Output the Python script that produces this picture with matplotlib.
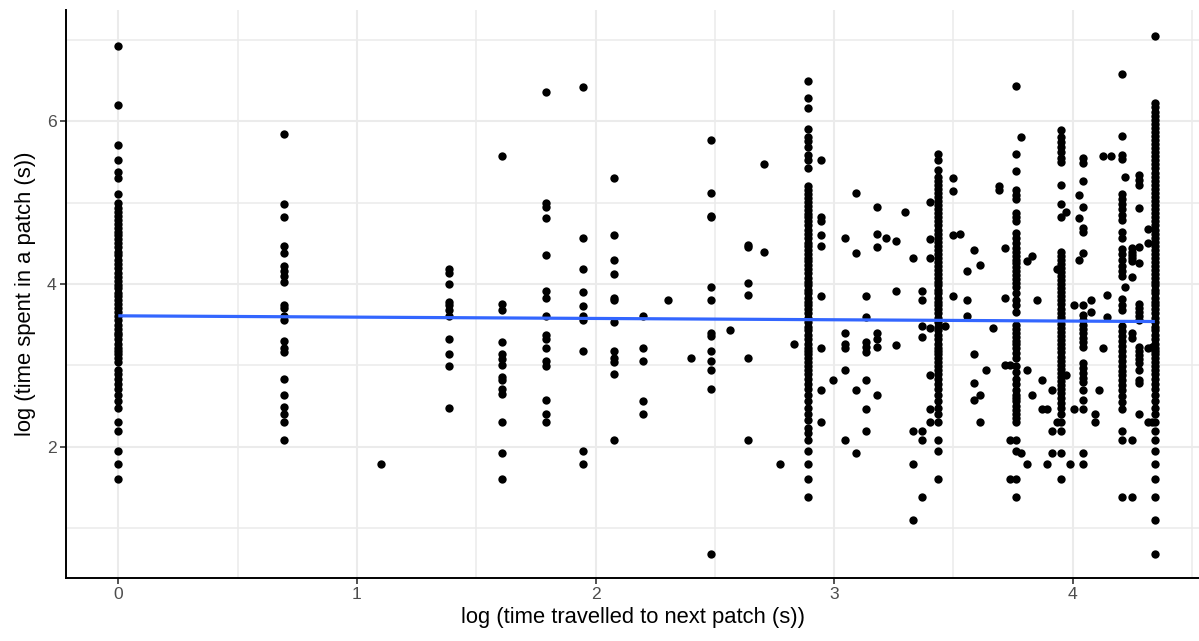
import matplotlib
matplotlib.use('Agg')
import numpy as np
import matplotlib.pyplot as plt

plt.rcParams['font.family'] = ['Liberation Sans', 'DejaVu Sans']

# log (time spent in a patch) for the crowded travel-time columns
y_t1 = [6.93, 6.20, 5.71, 5.53, 5.38, 5.30, 5.11, 4.99, 4.94, 4.89, 4.84, 4.79, 4.74, 4.69,
        4.64, 4.60, 4.55, 4.50, 4.45, 4.40, 4.36, 4.30, 4.25, 4.20, 4.14, 4.09, 4.04, 3.99,
        3.95, 3.89, 3.85, 3.81, 3.76, 3.71, 3.66, 3.61, 3.56, 3.50, 3.45, 3.40, 3.37, 3.33,
        3.26, 3.22, 3.18, 3.14, 3.09, 3.04, 2.94, 2.89, 2.83, 2.77, 2.71, 2.64, 2.56, 2.48,
        2.30, 2.20, 1.95, 1.79, 1.61]
y_t18 = [6.49, 6.29, 6.16, 5.90, 5.81, 5.76, 5.69, 5.59, 5.52, 5.42, 5.20, 5.15, 5.11, 5.06,
         5.01, 4.96, 4.91, 4.86, 4.82, 4.77, 4.72, 4.66, 4.61, 4.56, 4.51, 4.47, 4.42, 4.37,
         4.32, 4.28, 4.23, 4.18, 4.13, 4.08, 4.03, 3.99, 3.93, 3.89, 3.83, 3.78, 3.74, 3.69,
         3.64, 3.58, 3.53, 3.47, 3.43, 3.37, 3.33, 3.26, 3.22, 3.18, 3.14, 3.09, 3.04, 2.99,
         2.94, 2.89, 2.83, 2.77, 2.71, 2.64, 2.56, 2.48, 2.40, 2.33, 2.23, 2.17, 2.08, 1.95,
         1.79, 1.61, 1.39]
y_t31 = [5.60, 5.52, 5.40, 5.32, 5.27, 5.22, 5.17, 5.12, 5.07, 5.02, 4.97, 4.92, 4.87, 4.82,
         4.77, 4.72, 4.67, 4.62, 4.57, 4.52, 4.47, 4.42, 4.37, 4.32, 4.27, 4.22, 4.17, 4.12,
         4.08, 4.03, 3.99, 3.93, 3.89, 3.83, 3.78, 3.74, 3.69, 3.64, 3.58, 3.53, 3.47, 3.43,
         3.37, 3.33, 3.26, 3.22, 3.18, 3.14, 3.09, 3.04, 2.99, 2.94, 2.89, 2.83, 2.77, 2.71,
         2.64, 2.56, 2.48, 2.40, 2.30, 2.08, 1.95, 1.61]
y_t43 = [6.43, 5.60, 5.39, 5.15, 5.10, 5.04, 4.87, 4.83, 4.77, 4.63, 4.57, 4.50, 4.44, 4.40,
         4.35, 4.30, 4.26, 4.21, 4.16, 4.11, 4.06, 4.01, 3.97, 3.89, 3.81, 3.74, 3.66, 3.50,
         3.45, 3.40, 3.35, 3.30, 3.26, 3.21, 3.15, 3.09, 2.99, 2.92, 2.83, 2.77, 2.70, 2.64,
         2.60, 2.56, 2.50, 2.45, 2.40, 2.35, 2.30, 2.08, 1.95, 1.61, 1.39]
y_t52 = [5.89, 5.81, 5.75, 5.69, 5.62, 5.55, 5.50, 5.22, 4.98, 4.83, 4.40, 4.35, 4.30, 4.25,
         4.20, 4.15, 4.10, 4.05, 4.00, 3.95, 3.90, 3.85, 3.80, 3.75, 3.70, 3.65, 3.60, 3.56,
         3.51, 3.46, 3.41, 3.36, 3.31, 3.26, 3.21, 3.16, 3.11, 3.06, 3.01, 2.96, 2.91, 2.86,
         2.81, 2.76, 2.71, 2.66, 2.60, 2.54, 2.48, 2.40, 2.31, 2.19, 1.93, 1.61]
y_t57 = [5.55, 5.49, 5.27, 4.95, 4.69, 4.64, 4.38, 3.74, 3.62, 3.56, 3.50, 3.45, 3.40, 3.34,
         3.29, 3.23, 3.03, 2.97, 2.91, 2.85, 2.80, 2.70, 2.58, 2.47, 1.93, 1.79]
y_t67 = [6.58, 5.82, 5.58, 5.54, 5.11, 5.05, 4.98, 4.92, 4.85, 4.79, 4.64, 4.57, 4.43, 4.37,
         4.29, 4.22, 4.16, 4.10, 3.82, 3.74, 3.68, 3.48, 3.42, 3.36, 3.30, 3.24, 3.18, 3.12,
         3.05, 2.99, 2.93, 2.88, 2.82, 2.76, 2.70, 2.62, 2.55, 2.47, 2.19, 2.08, 1.39]
y_t77 = [7.05, 6.22, 6.17, 6.12, 6.07, 6.02, 5.97, 5.92, 5.87, 5.82, 5.77, 5.72, 5.67, 5.62,
         5.57, 5.52, 5.47, 5.42, 5.37, 5.32, 5.27, 5.22, 5.17, 5.12, 5.07, 5.02, 4.97, 4.92,
         4.87, 4.82, 4.77, 4.72, 4.67, 4.62, 4.57, 4.52, 4.47, 4.42, 4.37, 4.32, 4.27, 4.22,
         4.17, 4.12, 4.08, 4.03, 3.99, 3.93, 3.89, 3.83, 3.78, 3.74, 3.69, 3.64, 3.58, 3.53,
         3.47, 3.43, 3.37, 3.33, 3.26, 3.22, 3.18, 3.14, 3.09, 3.04, 2.99, 2.94, 2.89, 2.83,
         2.77, 2.71, 2.64, 2.56, 2.48, 2.40, 2.30, 2.20, 2.08, 1.95, 1.79, 1.61, 1.39, 1.10,
         0.69]

dense_x = [0.0, 2.890, 3.434, 3.761, 3.951, 4.043, 4.205, 4.344]
dense_y = [y_t1, y_t18, y_t31, y_t43, y_t52, y_t57, y_t67, y_t77]

# the thinner travel-time columns
sparse_x = [0.693, 1.099, 1.386, 1.609, 1.792, 1.946, 2.079, 2.197, 2.303, 2.398, 2.485,
            2.565, 2.639, 2.708, 2.773, 2.833, 2.944, 2.996, 3.045, 3.091, 3.135, 3.178,
            3.219, 3.258, 3.296, 3.332, 3.367, 3.401, 3.466, 3.497, 3.526, 3.555, 3.584,
            3.611, 3.638, 3.664, 3.689, 3.714, 3.738, 3.784, 3.807, 3.829, 3.850, 3.871,
            3.892, 3.912, 3.932, 3.970, 3.989, 4.007, 4.025, 4.078, 4.094, 4.111, 4.127,
            4.143, 4.159, 4.220, 4.248, 4.277, 4.317, 4.331]
sparse_y = [
    [5.84, 4.98, 4.82, 4.47, 4.38, 4.22, 4.16, 4.10, 4.03, 3.74, 3.71, 3.61, 3.56, 3.30,
     3.22, 3.17, 2.83, 2.64, 2.49, 2.40, 2.30, 2.08],
    [1.79],
    [4.19, 4.13, 4.00, 3.78, 3.74, 3.68, 3.61, 3.32, 3.14, 2.99, 2.48],
    [5.57, 3.76, 3.68, 3.29, 3.14, 3.08, 3.01, 2.86, 2.82, 2.71, 2.65, 2.31, 1.93, 1.61],
    [6.36, 4.99, 4.95, 4.81, 4.36, 3.91, 3.83, 3.61, 3.37, 3.33, 3.21, 3.05, 2.99, 2.57,
     2.40, 2.31],
    [6.42, 4.56, 4.19, 3.90, 3.73, 3.61, 3.56, 3.18, 1.95, 1.79],
    [5.30, 4.60, 4.29, 4.12, 3.83, 3.80, 3.53, 3.18, 3.09, 3.04, 2.89, 2.08],
    [3.61, 3.22, 3.05, 2.56, 2.40],
    [3.81],
    [3.09],
    [5.77, 5.12, 4.84, 4.83, 3.97, 3.81, 3.40, 3.36, 3.18, 3.05, 2.94, 2.71, 0.69],
    [3.43],
    [4.48, 4.45, 4.01, 3.87, 3.09, 2.08],
    [5.48, 4.40],
    [1.79],
    [3.26],
    [5.52, 4.82, 4.77, 4.60, 4.47, 3.85, 3.21, 2.70, 2.31],
    [2.82],
    [4.56, 3.40, 3.27, 3.21, 2.94, 2.08],
    [5.12, 4.38, 2.70, 1.93],
    [3.85, 3.60, 3.29, 3.23, 3.17, 2.82, 2.47, 2.19],
    [4.95, 4.62, 4.45, 3.40, 3.33, 3.23, 2.64],
    [4.56],
    [4.53, 3.92, 3.25],
    [4.88],
    [4.32, 2.19, 1.79, 1.10],
    [3.91, 3.80, 3.48, 3.35, 2.19, 2.08, 1.39],
    [5.01, 4.55, 4.32, 3.46, 2.88, 2.47, 2.31],
    [3.49],
    [5.30, 5.14, 4.60, 3.85],
    [4.62],
    [4.16, 3.80, 3.61],
    [4.42, 3.14, 2.78, 2.58],
    [4.23, 2.64, 2.31],
    [2.94],
    [3.46],
    [5.20, 5.16],
    [4.44, 3.83, 3.01],
    [3.01, 2.08, 1.61],
    [5.81, 1.93],
    [4.28, 2.94, 1.79],
    [4.34, 2.64],
    [3.80],
    [2.82, 2.47],
    [2.47, 1.79],
    [2.70, 2.19, 1.93],
    [4.19, 2.31],
    [4.89, 2.88],
    [1.79],
    [3.74, 2.47],
    [5.09, 4.81, 4.30],
    [3.80, 3.66],
    [2.41, 2.31],
    [2.70],
    [5.57, 3.21],
    [3.86, 3.60],
    [5.57],
    [5.31, 3.96],
    [4.44, 4.40, 4.36, 4.32, 4.28, 4.09, 3.40, 3.34, 2.08, 1.39],
    [5.34, 5.28, 5.22, 4.94, 4.46, 4.26, 3.76, 3.71, 3.66, 3.61, 3.56, 3.23, 3.18, 3.13,
     3.08, 3.03, 2.94, 2.82, 2.78, 2.40],
    [4.68, 4.51, 3.22, 2.31],
    [3.23, 2.31],
]

# fitted smooth, read at its two ends
smooth_x = [0.0, 4.344]
smooth_y = [3.61, 3.54]

xs, ys = [], []
for cx, cy in zip(dense_x + sparse_x, dense_y + sparse_y):
    xs += [cx] * len(cy)
    ys += cy

fig = plt.figure(figsize=(11.99, 6.41), dpi=100)
ax = fig.add_axes([66.3 / 1199, 63.3 / 641, 1 - 66.3 / 1199, 567.7 / 641])

ax.scatter(xs, ys, s=36, color='black', linewidths=0, zorder=3)
ax.plot(smooth_x, smooth_y, color='#3366FF', lw=2.3, zorder=4, solid_capstyle='butt')

ax.set_xlim(-0.218, 4.529)
ax.set_ylim(0.393, 7.367)
ax.set_xticks([0, 1, 2, 3, 4])
ax.set_xticks([0.5, 1.5, 2.5, 3.5, 4.5], minor=True)
ax.set_yticks([2, 4, 6])
ax.set_yticks([1, 3, 5, 7], minor=True)

ax.grid(which='major', color='#EBEBEB', lw=1.5, zorder=0)
ax.grid(which='minor', color='#EBEBEB', lw=1.1, zorder=0)
ax.set_axisbelow(True)

for side in ['top', 'right']:
    ax.spines[side].set_visible(False)
for side in ['left', 'bottom']:
    ax.spines[side].set_color('black')
    ax.spines[side].set_linewidth(1.4)

ax.tick_params(which='major', length=4, width=1.2, color='#333333',
               labelcolor='#4D4D4D', labelsize=12.6, pad=3)
ax.tick_params(which='minor', length=0)

ax.set_xlabel('log (time travelled to next patch (s))', fontsize=15.8, labelpad=3)
ax.set_ylabel('log (time spent in a patch (s))', fontsize=15.8, labelpad=8)

fig.savefig('out.png', dpi=100)
